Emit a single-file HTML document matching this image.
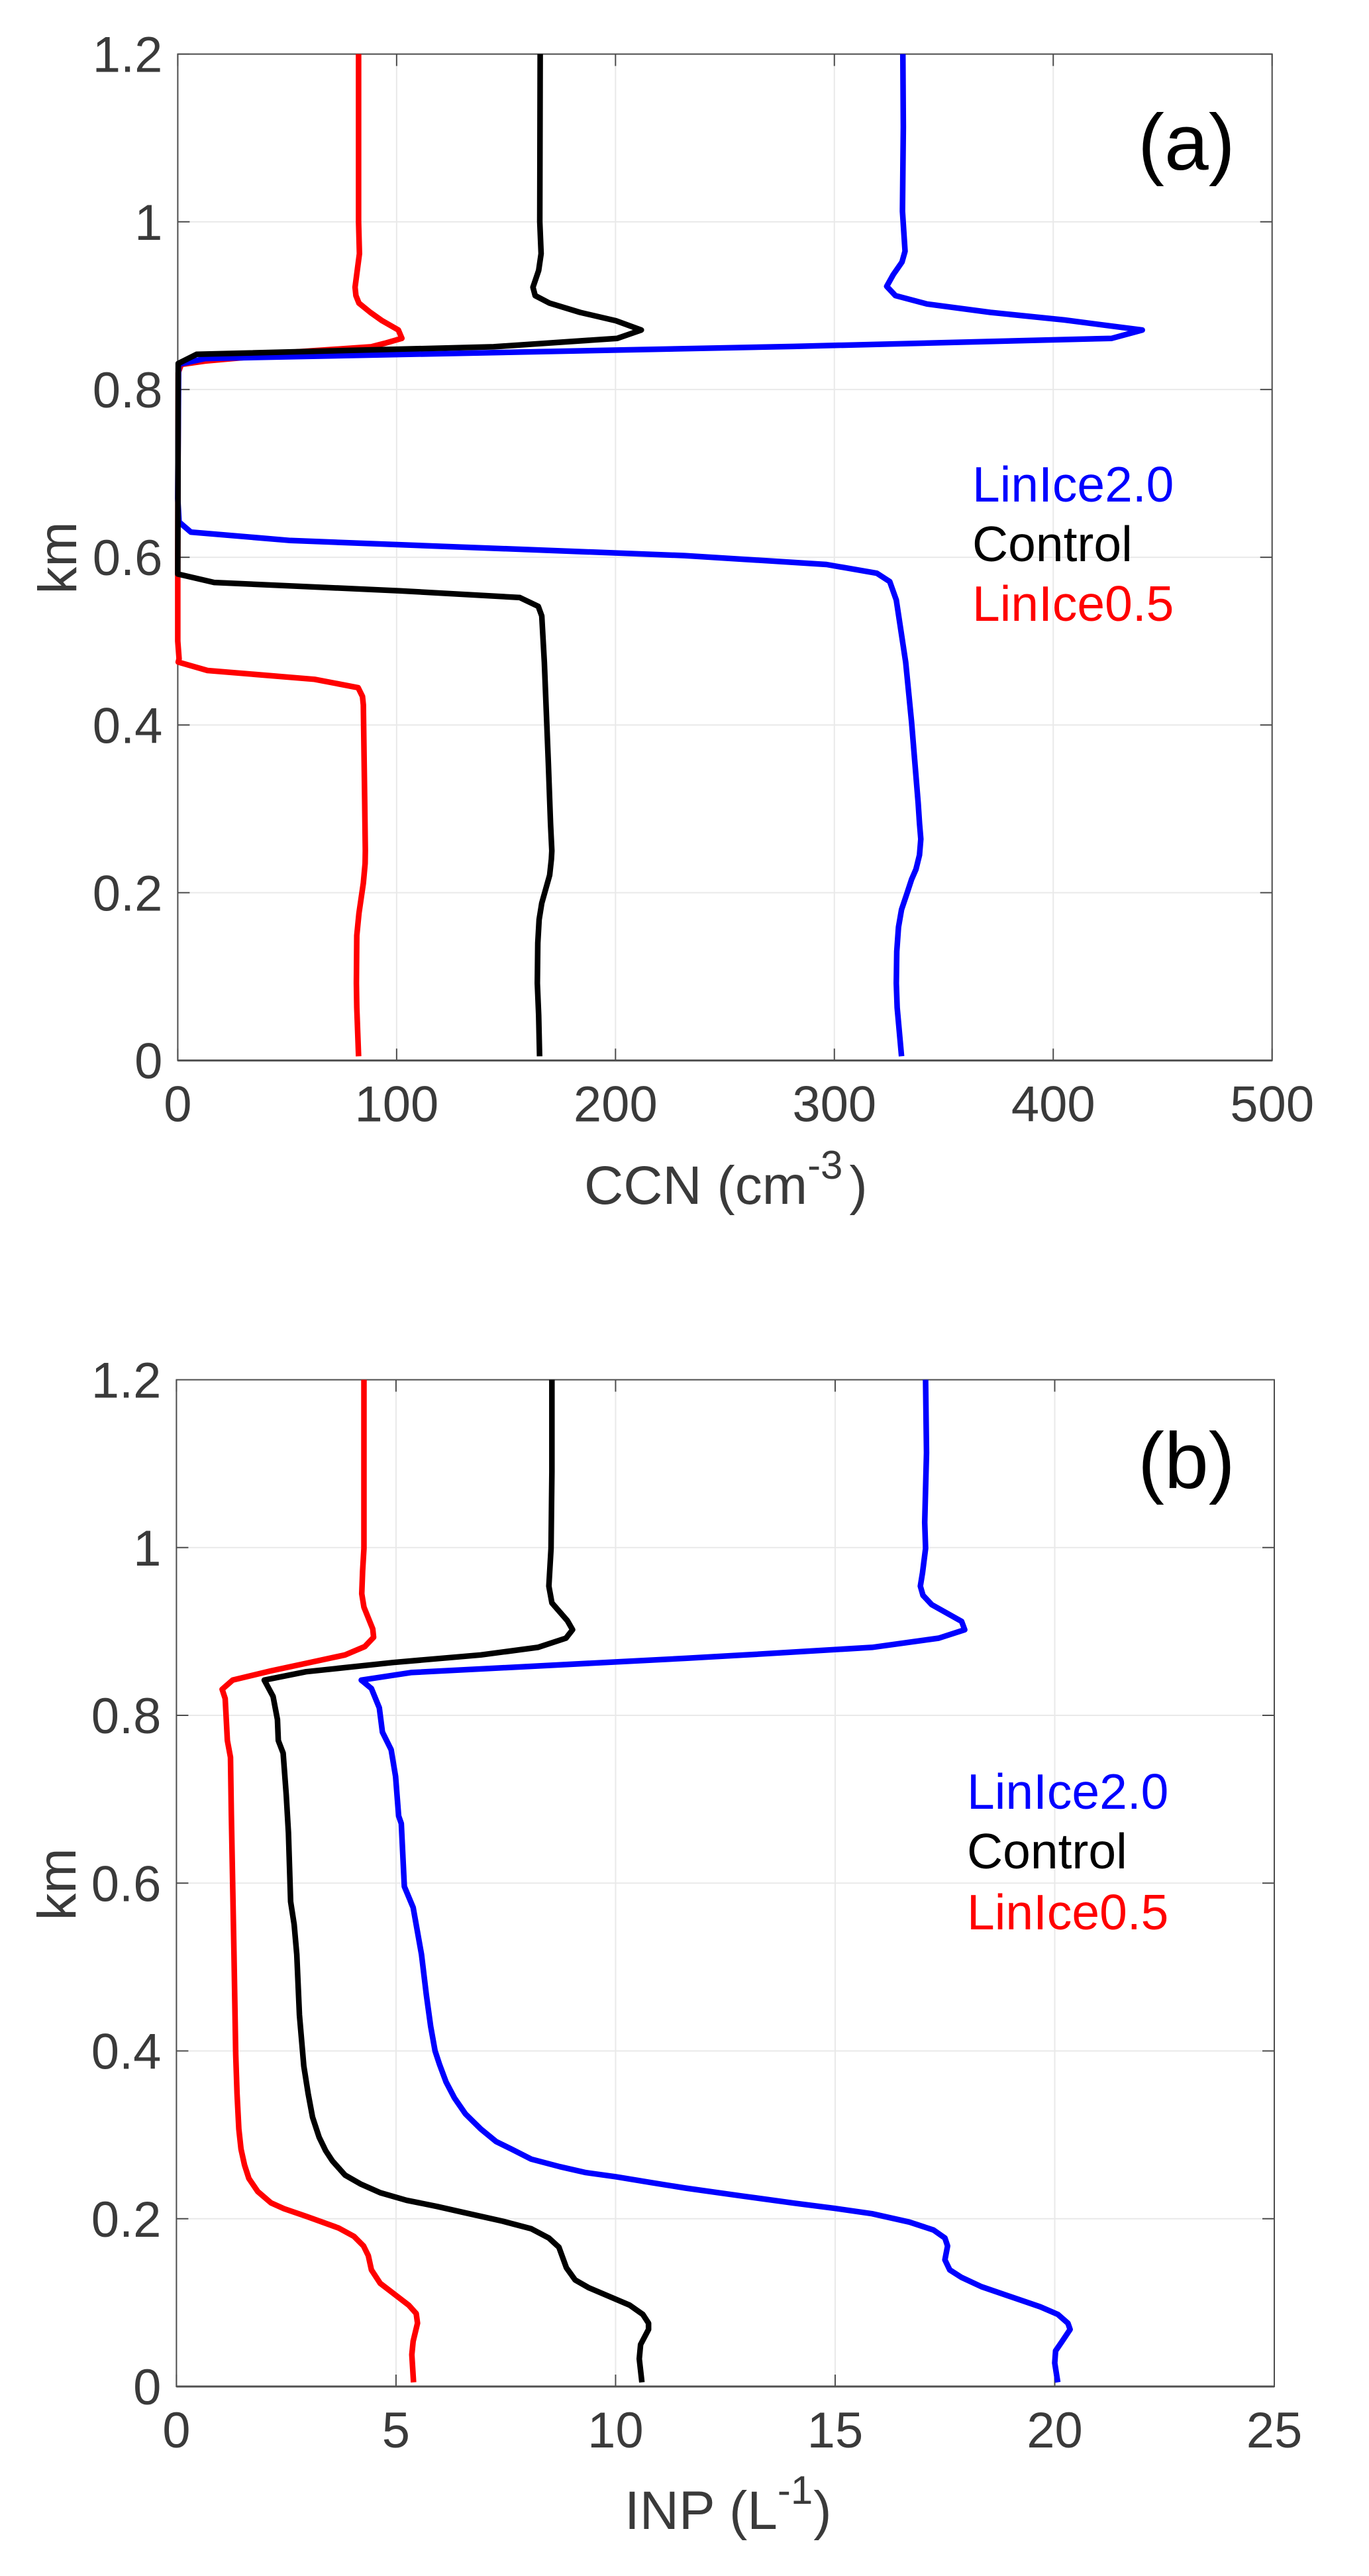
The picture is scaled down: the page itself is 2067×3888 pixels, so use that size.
<!DOCTYPE html>
<html lang="en">
<head>
<meta charset="utf-8">
<title>CCN and INP vertical profiles</title>
<style>
html,body{margin:0;padding:0;background:#fff;}
svg{display:block;}
text{font-family:"Liberation Sans",Arial,sans-serif;}
.lbl{fill:#3a3a3a;font-size:82px;}
.leg{font-size:75px;}
.tag{font-size:120px;fill:#000;}
</style>
</head>
<body>
<svg id="figure" xmlns="http://www.w3.org/2000/svg" width="2067" height="3888" viewBox="0 0 2067 3888">
  <rect x="0" y="0" width="2067" height="3888" fill="#fff"/>

  <g id="panel-a">
    <g id="a-plot"></g>
    <text class="lbl" x="882" y="1817">CCN (cm<tspan font-size="60" dy="-38">-3</tspan><tspan dy="38" dx="10">)</tspan></text>
    <text class="lbl" text-anchor="middle" transform="translate(115,842) rotate(-90)">km</text>
    <text class="tag" x="1718" y="256">(a)</text>
    <text class="leg" x="1468" y="757" fill="#0000ff">LinIce2.0</text>
    <text class="leg" x="1468" y="847" fill="#000000">Control</text>
    <text class="leg" x="1468" y="937" fill="#ff0000">LinIce0.5</text>
  </g>

  <g id="panel-b">
    <g id="b-plot"></g>
    <text class="lbl" x="943" y="3817">INP (L<tspan font-size="60" dy="-38">-1</tspan><tspan dy="38" dx="1">)</tspan></text>
    <text class="lbl" text-anchor="middle" transform="translate(114,2844) rotate(-90)">km</text>
    <text class="tag" x="1718" y="2246">(b)</text>
    <text class="leg" x="1460" y="2730" fill="#0000ff">LinIce2.0</text>
    <text class="leg" x="1460" y="2820" fill="#000000">Control</text>
    <text class="leg" x="1460" y="2912" fill="#ff0000">LinIce0.5</text>
  </g>
</svg>

<script>
// Tick values and labels
const heightTicks = [0, 0.2, 0.4, 0.6, 0.8, 1, 1.2];
const heightTickLabels = ['0', '0.2', '0.4', '0.6', '0.8', '1', '1.2'];
const ccnTicks = [0, 100, 200, 300, 400, 500];
const ccnTickLabels = ['0', '100', '200', '300', '400', '500'];
const inpTicks = [0, 5, 10, 15, 20, 25];
const inpTickLabels = ['0', '5', '10', '15', '20', '25'];

// Panel (a): CCN (cm-3) against height (km)
const ccnRedHeights = [1.2, 1.0, .962, .942, .922, .912, .903, .892, .882, .871, .861, .855, .851, .845, .84, .834, .83, .82, .6, .5, .479, .475, .465, .4545, .4445, .434, .424, .312, .25, .235, .2115, .1756, .149, .092, .063, .005];
const ccnRedValues = [82.6, 82.6, 83, 82, 81, 81.4, 82.8, 88, 93.4, 100.8, 102.4, 94.4, 88.4, 54.5, 38.5, 12.6, 1.6, .2, 0, 0, .6, .2, 13.6, 62.5, 82.4, 84.4, 84.8, 85.4, 85.7, 85.6, 84.8, 82.8, 81.8, 81.6, 81.8, 82.6];

const ccnBlueHeights = [1.2, 1.113, 1.0126, .965, .952, .937, .923, .912, .902, .892, .883, .871, .861, .8514, .837, .83, .67, .642, .63, .62, .602, .5914, .581, .571, .549, .4746, .403, .307, .283, .264, .245, .228, .216, .197, .18, .159, .13, .092, .063, .005];
const ccnBlueValues = [331.3, 331.5, 331.1, 332.3, 330.9, 326.9, 323.9, 327.9, 342.3, 371.3, 405, 440.7, 426.7, 281.4, 12.6, .4, 0, .6, 6, 51.5, 231.7, 296.4, 319.4, 325.3, 328.3, 332.6, 335.3, 338.3, 338.9, 339.5, 338.9, 337.3, 335.3, 332.9, 330.7, 329.3, 328.5, 328.3, 328.7, 330.7];

const ccnBlackHeights = [1.2, 1.0, .962, .942, .922, .912, .903, .892, .882, .871, .861, .851, .842, .831, .58, .57, .56, .552, .5415, .53, .4746, .355, .283, .25, .24, .221, .1876, .168, .14, .092, .054, .005];
const ccnBlackValues = [165.6, 165.4, 166, 164.9, 162.3, 163.3, 169.9, 183.8, 200.2, 211.8, 200.8, 144.3, 8.6, .2, 0, 16.6, 101.4, 156.3, 164.7, 166.3, 167.5, 169.3, 170.3, 170.9, 170.7, 169.9, 166.3, 165.1, 164.5, 164.3, 164.9, 165.3];

// Panel (b): INP (L-1) against height (km)
const inpRedHeights = [1.2, .999, .972, .945, .929, .903, .893, .882, .872, .862, .853, .842, .831, .82, .77, .75, .682, .515, .396, .349, .307, .283, .264, .248, .2325, .219, .212, .203, .189, .179, .1675, .156, .139, .123, .097, .087, .0755, .054, .038, .005];
const inpRedValues = [4.27, 4.27, 4.24, 4.22, 4.27, 4.47, 4.49, 4.29, 3.84, 2.95, 2.15, 1.28, 1.04, 1.11, 1.16, 1.23, 1.25, 1.31, 1.35, 1.38, 1.42, 1.47, 1.55, 1.65, 1.85, 2.15, 2.45, 2.95, 3.69, 4.04, 4.26, 4.37, 4.44, 4.64, 5.29, 5.46, 5.49, 5.39, 5.36, 5.4];

const inpBlueHeights = [1.2, 1.113, 1.03, .999, .97, .954, .943, .932, .912, .902, .892, .881, .872, .868, .851, .842, .832, .809, .78, .759, .727, .68, .671, .596, .571, .515, .467, .429, .4, .384, .363, .344, .325, .307, .292, .283, .271, .262, .255, .25, .243, .2365, .2272, .2186, .2123, .206, .196, .1865, .177, .1675, .151, .139, .13, .119, .095, .086, .0755, .068, .054, .0425, .028, .005];
const inpBlueValues = [17.06, 17.08, 17.04, 17.06, 16.99, 16.94, 17, 17.2, 17.88, 17.95, 17.36, 15.84, 12.96, 11.6, 5.34, 4.21, 4.44, 4.62, 4.69, 4.89, 4.99, 5.06, 5.12, 5.19, 5.39, 5.58, 5.69, 5.79, 5.89, 5.99, 6.14, 6.33, 6.58, 6.93, 7.28, 7.63, 8.08, 8.73, 9.32, 10.01, 10.82, 11.59, 12.86, 14.06, 15, 15.84, 16.69, 17.24, 17.5, 17.56, 17.5, 17.61, 17.88, 18.33, 19.67, 20.07, 20.3, 20.35, 20.17, 20.02, 20, 20.07];

const inpBlackHeights = [1.2, 1.09, .999, .954, .934, .913, .902, .892, .881, .872, .863, .852, .842, .8225, .795, .77, .755, .705, .66, .578, .551, .515, .443, .382, .349, .321, .297, .281, .269, .252, .2415, .231, .222, .2146, .2075, .197, .188, .177, .166, .1415, .127, .118, .097, .086, .0755, .068, .05, .033, .005];
const inpBlackValues = [8.55, 8.55, 8.53, 8.48, 8.55, 8.9, 9.02, 8.87, 8.23, 6.93, 4.94, 2.95, 2, 2.2, 2.3, 2.32, 2.43, 2.5, 2.55, 2.6, 2.68, 2.74, 2.8, 2.9, 3, 3.1, 3.25, 3.4, 3.55, 3.84, 4.19, 4.64, 5.24, 5.94, 6.54, 7.43, 8.08, 8.48, 8.71, 8.88, 9.08, 9.38, 10.32, 10.62, 10.75, 10.75, 10.57, 10.54, 10.6];

const NS = 'http://www.w3.org/2000/svg';

function makeSvg(tag, attrs) {
  const node = document.createElementNS(NS, tag);
  for (const key in attrs) node.setAttribute(key, attrs[key]);
  return node;
}

function linearScale(d0, d1, r0, r1) {
  return function (v) { return r0 + (v - d0) / (d1 - d0) * (r1 - r0); };
}

function drawPanel(rootId, box, xTicks, xLabels, series) {
  const root = document.getElementById(rootId);
  const xScale = linearScale(xTicks[0], xTicks[xTicks.length - 1], box.left, box.right);
  const yScale = linearScale(0, 1.2, box.bottom, box.top);
  const tickLen = 18;

  // gridlines
  xTicks.forEach(function (t) {
    const x = xScale(t);
    const el = makeSvg('line', { x1: x, x2: x, y1: box.top, y2: box.bottom, stroke: '#e9e9e9', 'stroke-width': 2 });
    
    
    root.appendChild(el);
  });
  heightTicks.forEach(function (t) {
    const y = yScale(t);
    const el = makeSvg('line', { x1: box.left, x2: box.right, y1: y, y2: y, stroke: '#e9e9e9', 'stroke-width': 2 });
    
    
    root.appendChild(el);
  });

  // tick marks
  xTicks.forEach(function (t) {
    const x = xScale(t);
    [[box.bottom, box.bottom - tickLen], [box.top, box.top + tickLen]].forEach(function (p) {
      const el = makeSvg('line', { x1: x, x2: x, y1: p[0], y2: p[1], stroke: '#4d4d4d', 'stroke-width': 2 });
      
      
      root.appendChild(el);
    });
  });
  heightTicks.forEach(function (t) {
    const y = yScale(t);
    [[box.left, box.left + tickLen], [box.right, box.right - tickLen]].forEach(function (p) {
      const el = makeSvg('line', { x1: p[0], x2: p[1], y1: y, y2: y, stroke: '#4d4d4d', 'stroke-width': 2 });
      
      
      root.appendChild(el);
    });
  });

  // axes box
  const frame = makeSvg('path', {
    d: 'M' + box.left + ' ' + box.bottom + 'V' + box.top + 'H' + box.right + 'V' + box.bottom + 'Z',
    fill: 'none', stroke: '#4d4d4d', 'stroke-width': 2
  });
  
  
  root.appendChild(frame);

  const baseLine = makeSvg('line', { x1: box.left, x2: box.right, y1: box.bottom, y2: box.bottom, stroke: '#505050', 'stroke-width': 3 });
  
  
  root.appendChild(baseLine);

  // data series
  series.forEach(function (s) {
    const pts = s.heights.map(function (h, i) {
      return xScale(s.values[i]).toFixed(1) + ',' + yScale(h).toFixed(1);
    }).join(' ');
    const el = makeSvg('polyline', {
      points: pts, fill: 'none', stroke: s.color, 'stroke-width': 8.5,
      'stroke-linejoin': 'round', 'stroke-linecap': 'butt'
    });
    
    
    root.appendChild(el);
  });

  // tick labels
  xTicks.forEach(function (t, i) {
    const el = makeSvg('text', { x: xScale(t), y: box.bottom + 92, 'text-anchor': 'middle', fill: '#3a3a3a', 'font-size': 76 });
    
    
    el.textContent = xLabels[i];
    root.appendChild(el);
  });
  heightTicks.forEach(function (t, i) {
    const el = makeSvg('text', { x: box.left - 23, y: yScale(t) + 27, 'text-anchor': 'end', fill: '#3a3a3a', 'font-size': 76 });
    
    
    el.textContent = heightTickLabels[i];
    root.appendChild(el);
  });
}

drawPanel('a-plot', { left: 268.4, right: 1920.7, top: 81.6, bottom: 1600.6 }, ccnTicks, ccnTickLabels, [
  { name: 'ccn-linice05-line', color: '#ff0000', heights: ccnRedHeights, values: ccnRedValues },
  { name: 'ccn-linice2-line', color: '#0000ff', heights: ccnBlueHeights, values: ccnBlueValues },
  { name: 'ccn-control-line', color: '#000000', heights: ccnBlackHeights, values: ccnBlackValues }
]);

drawPanel('b-plot', { left: 266.4, right: 1924, top: 2082.5, bottom: 3602 }, inpTicks, inpTickLabels, [
  { name: 'inp-linice05-line', color: '#ff0000', heights: inpRedHeights, values: inpRedValues },
  { name: 'inp-linice2-line', color: '#0000ff', heights: inpBlueHeights, values: inpBlueValues },
  { name: 'inp-control-line', color: '#000000', heights: inpBlackHeights, values: inpBlackValues }
]);
</script>
</body>
</html>
